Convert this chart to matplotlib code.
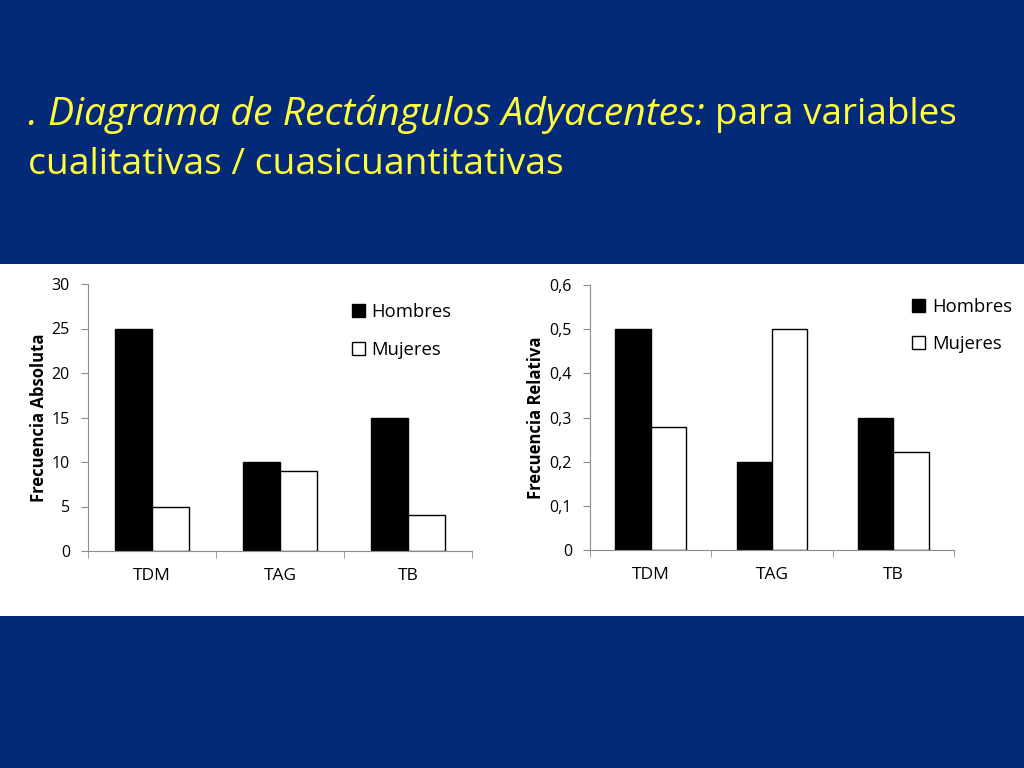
import numpy as np
import matplotlib
matplotlib.use("Agg")
import matplotlib.pyplot as plt
from matplotlib.patches import Rectangle, Patch

categories = ["TDM", "TAG", "TB"]
hombres_abs = [25, 10, 15]
mujeres_abs = [5, 9, 4]
hombres_rel = [0.5, 0.2, 0.3]
mujeres_rel = [0.278, 0.5, 0.222]

abs_ticks = [0, 5, 10, 15, 20, 25, 30]
rel_ticks = [0, 0.1, 0.2, 0.3, 0.4, 0.5, 0.6]
rel_labels = ["0", "0,1", "0,2", "0,3", "0,4", "0,5", "0,6"]

NAVY = "#022a78"
YELLOW = "#ffff3c"
FONT = "Open Sans"
W, H = 1024, 768

plt.rcParams["font.family"] = [FONT, "DejaVu Sans"]

fig = plt.figure(figsize=(W / 100, H / 100), dpi=100)
fig.patch.set_facecolor(NAVY)

# white band behind the charts
fig.patches.append(Rectangle((0, 1 - 616 / H), 1, (616 - 264) / H,
                             transform=fig.transFigure, facecolor="white",
                             edgecolor="none", zorder=-1))

# title: italic part followed by upright part
t1 = fig.text(28 / W, 1 - 115 / H, ". Diagrama de Rectángulos Adyacentes:",
              fontsize=28.2, style="italic", color=YELLOW, va="center")
fig.canvas.draw()
bb = t1.get_window_extent()
fig.text(bb.x1 / W + 10 / W, 1 - 115 / H, "para variables", fontsize=26.6,
         color=YELLOW, va="center")
fig.text(28 / W, 1 - 165 / H, "cualitativas / cuasicuantitativas",
         fontsize=26.8, color=YELLOW, va="center")


def pix_axes(x0, y0, x1, y1):
    return fig.add_axes([x0 / W, 1 - y1 / H, (x1 - x0) / W, (y1 - y0) / H])


def draw_chart(ax, h_vals, m_vals, ymax, ticks, labels, ylabel, leg_anchor):
    x = np.arange(len(categories))
    bw = 0.29
    ax.bar(x - bw / 2, h_vals, bw, color="black", edgecolor="black",
           linewidth=1, label="Hombres")
    ax.bar(x + bw / 2, m_vals, bw, color="white", edgecolor="black",
           linewidth=1, label="Mujeres")
    ax.set_xlim(-0.5, len(categories) - 0.5)
    ax.set_ylim(0, ymax)
    ax.set_yticks(ticks)
    ax.set_yticklabels(labels, fontsize=11.5)
    ax.set_xticks(x)
    ax.set_xticklabels(categories, fontsize=12.5)
    ax.set_xticks(np.arange(len(categories) + 1) - 0.5, minor=True)
    ax.tick_params(axis="x", which="major", length=0, pad=12)
    ax.tick_params(axis="x", which="minor", length=5, color="#8c8c8c")
    ax.tick_params(axis="y", length=5, color="#8c8c8c", pad=8)
    for s in ["top", "right"]:
        ax.spines[s].set_visible(False)
    for s in ["left", "bottom"]:
        ax.spines[s].set_color("#8c8c8c")
    ax.set_ylabel(ylabel, fontsize=12, fontweight="bold", labelpad=3)
    ax.set_facecolor("white")
    handles = [Patch(facecolor="black", edgecolor="black"),
               Patch(facecolor="white", edgecolor="black")]
    ax.legend(handles, ["Hombres", "Mujeres"], loc="upper left",
              bbox_to_anchor=leg_anchor, frameon=False, fontsize=13.3,
              handlelength=0.7, handleheight=0.7, handletextpad=0.35,
              labelspacing=1.05)


ax1 = pix_axes(88, 284, 472, 551)
draw_chart(ax1, hombres_abs, mujeres_abs, 30, abs_ticks,
           [str(t) for t in abs_ticks], "Frecuencia Absoluta", (0.645, 0.99))

ax2 = pix_axes(590, 285, 954, 550)
draw_chart(ax2, hombres_rel, mujeres_rel, 0.6, rel_ticks, rel_labels,
           "Frecuencia Relativa", (0.84, 1.015))

fig.savefig("out.png", dpi=100, facecolor=NAVY)
